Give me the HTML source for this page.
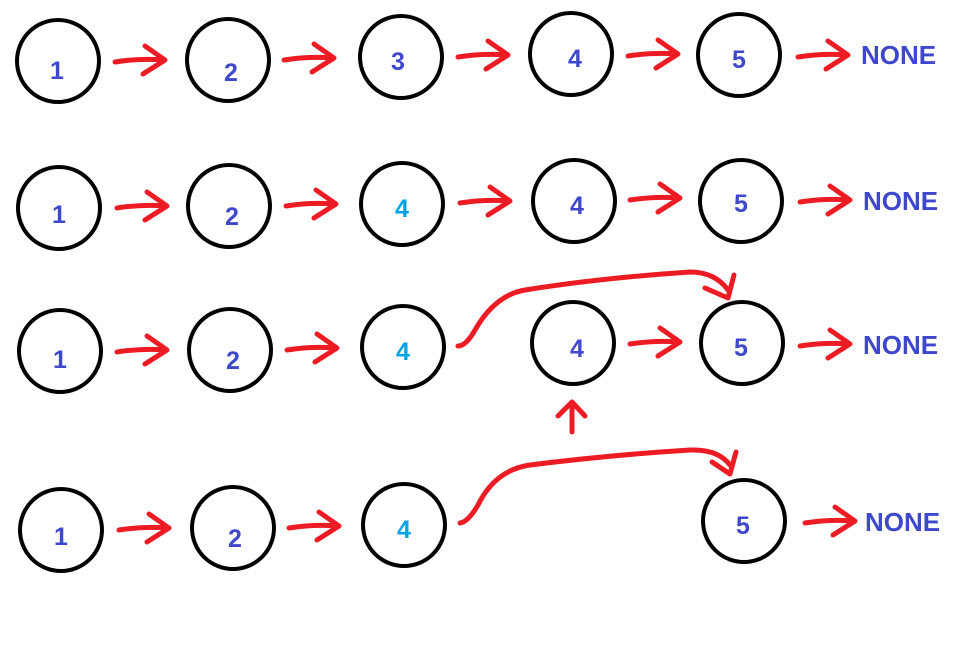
<!DOCTYPE html>
<html><head><meta charset="utf-8"><style>
html,body{margin:0;padding:0;background:#fff;width:962px;height:648px;overflow:hidden}
text{font-family:"Liberation Sans","DejaVu Sans",sans-serif;font-weight:bold;font-size:25px;text-anchor:middle}
text.n{text-anchor:start;font-size:26px}
.c{fill:none;stroke:#000;stroke-width:4}
.a{fill:none;stroke:#ed1c24;stroke-width:5;stroke-linecap:round;stroke-linejoin:round}
.b{fill:#3f48cc}.k{fill:#00a2e8}
</style></head><body>
<svg width="962" height="648" xmlns="http://www.w3.org/2000/svg">
<!-- Row 1 -->
<circle class="c" cx="58" cy="61" r="41"/><text class="b" x="57" y="79">1</text>
<circle class="c" cx="228" cy="60" r="41"/><text class="b" x="231" y="81">2</text>
<circle class="c" cx="401" cy="57" r="41"/><text class="b" x="398" y="70">3</text>
<circle class="c" cx="571" cy="54" r="41"/><text class="b" x="575" y="67">4</text>
<circle class="c" cx="739" cy="55" r="41"/><text class="b" x="739" y="68">5</text>
<text class="b n" x="861" y="64">NONE</text>
<path class="a" d="M115 62 Q140 58 164 60 M145 46 L165 60 L143 74"/>
<path class="a" d="M284 60 Q309 56 333 58 M314 44 L334 58 L312 72"/>
<path class="a" d="M458 57 Q483 53 507 55 M488 41 L508 55 L486 69"/>
<path class="a" d="M628 56 Q653 52 677 54 M658 40 L678 54 L656 68"/>
<path class="a" d="M798 57 Q823 53 847 55 M828 41 L848 55 L826 69"/>
<!-- Row 2 -->
<circle class="c" cx="59" cy="208" r="41"/><text class="b" x="59" y="223">1</text>
<circle class="c" cx="229" cy="206" r="41"/><text class="b" x="232" y="225">2</text>
<circle class="c" cx="402" cy="204" r="41"/><text class="k" x="402" y="217">4</text>
<circle class="c" cx="574" cy="201" r="41"/><text class="b" x="577" y="214">4</text>
<circle class="c" cx="741" cy="201" r="41"/><text class="b" x="741" y="212">5</text>
<text class="b n" x="863" y="210">NONE</text>
<path class="a" d="M117 208 Q142 204 166 206 M147 192 L167 206 L145 220"/>
<path class="a" d="M286 206 Q311 202 335 204 M316 190 L336 204 L314 218"/>
<path class="a" d="M460 203 Q485 199 509 201 M490 187 L510 201 L488 215"/>
<path class="a" d="M630 200 Q655 196 679 198 M660 184 L680 198 L658 212"/>
<path class="a" d="M800 202 Q825 198 849 200 M830 186 L850 200 L828 214"/>
<!-- Row 3 -->
<circle class="c" cx="60" cy="351" r="41"/><text class="b" x="60" y="368">1</text>
<circle class="c" cx="230" cy="350" r="41"/><text class="b" x="233" y="369">2</text>
<circle class="c" cx="403" cy="347" r="41"/><text class="k" x="403" y="360">4</text>
<circle class="c" cx="573" cy="343" r="41"/><text class="b" x="577" y="357">4</text>
<circle class="c" cx="742" cy="343" r="41"/><text class="b" x="741" y="356">5</text>
<text class="b n" x="863" y="354">NONE</text>
<path class="a" d="M117 352 Q142 348 166 350 M147 336 L167 350 L145 364"/>
<path class="a" d="M287 350 Q312 346 336 348 M317 334 L337 348 L315 362"/>
<path class="a" d="M630 344 Q655 340 679 342 M660 328 L680 342 L658 356"/>
<path class="a" d="M800 346 Q825 342 849 344 M830 330 L850 344 L828 358"/>
<path class="a" d="M458 346 Q466 346 475 330 Q495 295 525 290 Q600 278 690 272 Q715 272 728 290 M705 288 L728 298 L734 275"/>
<path class="a" d="M572 432 L572 402 M558 416 L572 402 L585 416"/>
<!-- Row 4 -->
<circle class="c" cx="61" cy="530" r="41"/><text class="b" x="61" y="545">1</text>
<circle class="c" cx="233" cy="528" r="41"/><text class="b" x="235" y="547">2</text>
<circle class="c" cx="404" cy="525" r="41"/><text class="k" x="404" y="538">4</text>
<circle class="c" cx="744" cy="521" r="41"/><text class="b" x="743" y="534">5</text>
<text class="b n" x="865" y="531">NONE</text>
<path class="a" d="M119 530 Q144 526 168 528 M149 514 L169 528 L147 542"/>
<path class="a" d="M289 528 Q314 524 338 526 M319 512 L339 526 L317 540"/>
<path class="a" d="M805 523 Q830 519 854 521 M835 507 L855 521 L833 535"/>
<path class="a" d="M460 523 Q468 522 478 505 Q495 470 530 465 Q610 455 690 450 Q718 449 730 465 M712 462 L730 474 L736 452"/>
</svg>
</body></html>
